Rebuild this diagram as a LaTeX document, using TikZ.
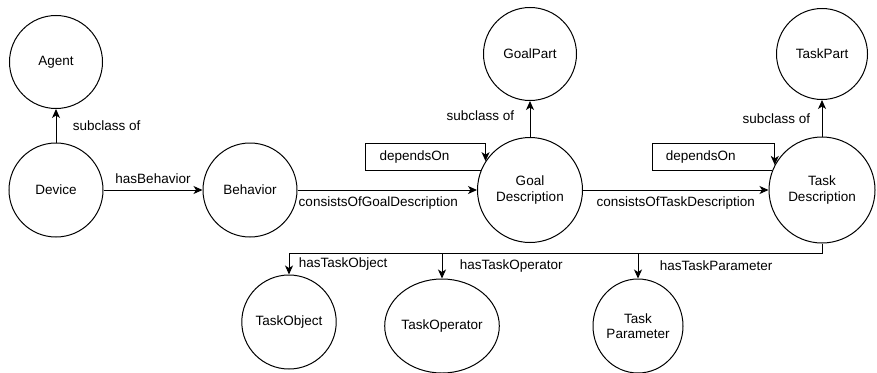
\documentclass[tikz,border=0pt]{standalone}
\usepackage{fontspec}
\setmainfont{Liberation Sans}
\usetikzlibrary{arrows.meta,positioning,shapes.geometric}

\begin{document}
\begin{tikzpicture}[x=1pt, y=-1pt, line width=1pt,
  font=\fontsize{13.5}{15.5}\selectfont,
  >={Stealth[length=9pt,width=8pt,inset=2.5pt]},
  concept/.style={circle, draw, inner sep=0pt, align=center},
  leaf/.style={ellipse, draw, inner sep=0pt, align=center, minimum width=90pt, minimum height=94pt}]

 \useasboundingbox (0,0) rectangle (877,372);

 % upper row
 \node (agent) [concept, minimum size=93pt] at (56,62) {Agent};
 \node (device) [concept, minimum size=94pt] at (56,190) {Device};
 \node (behavior) [concept, minimum size=94pt] at (250,190) {Behavior};
 \node (goaldesc) [concept, minimum size=105pt] at (530,190) {Goal\\Description};
 \node (goalpart) [concept, minimum size=93pt] at (530,54) {GoalPart};
 \node (taskdesc) [concept, minimum size=106pt] at (822,190) {Task\\Description};
 \node (taskpart) [concept, minimum size=91pt] at (822,54) {TaskPart};

 % lower row
 \node (taskobj) [leaf] at (289,322) {TaskObject};
 \node (taskop) [leaf] at (442,326) {TaskOperator};
 \node (taskparam) [leaf] at (638,326) {Task\\Parameter};

 \draw[->] (device) -- node[midway, right=13pt] {subclass of} (agent);
 \draw[->] (device) -- node[midway, above=3pt] {hasBehavior} (behavior);
 \draw[->] (behavior) -- node[pos=0.45, below=3pt] {consistsOfGoalDescription} (goaldesc);
 \draw[->] (goaldesc) -- node[midway, below=3pt] {consistsOfTaskDescription} (taskdesc);
 \draw[->] (goaldesc) -- node[pos=0.6, left=12pt] {subclass of} (goalpart);
 \draw[->] (taskdesc) -- node[midway, left=8pt] {subclass of} (taskpart);

 \draw[->] (goaldesc.158) -- ++(-115,0) -- node[midway, right=10pt] {dependsOn} ++(0,-27) -| (goaldesc.147);
 \draw[->] (taskdesc.159) -- ++(-120,0) -- node[midway, right=10pt] {dependsOn} ++(0,-27) -| (taskdesc.152);

 \draw (taskdesc.south) -- ++(0,10) coordinate (split);
 \draw[->] (split) -| node[pos=0.75, right=6pt] {hasTaskObject} (taskobj);
 \draw[->] (split) -| node[pos=0.75, right=14pt] {hasTaskOperator} (taskop);
 \draw[->] (split) -| node[pos=0.75, right=18pt] {hasTaskParameter} (taskparam);

\end{tikzpicture}
\end{document}
